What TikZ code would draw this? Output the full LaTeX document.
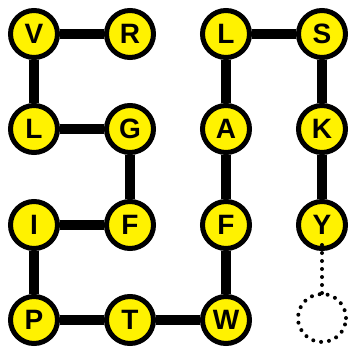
\documentclass[tikz,border=0pt]{standalone}
\usepackage{fontspec}
\setmainfont{Liberation Sans}
\begin{document}
\begin{tikzpicture}[x=1pt,y=-1pt,
  letter/.style={circle,draw=black,line width=5pt,fill=yellow,minimum size=47pt,inner sep=0pt,font=\fontsize{28}{28}\selectfont\bfseries},
  link/.style={line width=10pt},
  ghost/.style={circle,draw=black,line width=4pt,dash pattern=on 0pt off 8pt,line cap=round,minimum size=48pt,inner sep=0pt},
  ghostlink/.style={line width=4pt,dash pattern=on 0pt off 8pt,line cap=round}]
\useasboundingbox (0,0) rectangle (351,348);
\node[letter] (v) at (34,34) {V};
\node[letter] (r) at (130,34) {R};
\node[letter] (l1) at (34,129) {L};
\node[letter] (g) at (130,129) {G};
\node[letter] (i) at (34,225) {I};
\node[letter] (f1) at (130,225) {F};
\node[letter] (p) at (34,320) {P};
\node[letter] (t) at (130,320) {T};
\node[letter] (l2) at (226,34) {L};
\node[letter] (s) at (322,34) {S};
\node[letter] (a) at (226,129) {A};
\node[letter] (k) at (322,129) {K};
\node[letter] (f2) at (226,225) {F};
\node[letter] (y) at (322,225) {Y};
\node[letter] (w) at (226,320) {W};
\node[ghost] (e) at (322,318) {};
\foreach \a/\b in {v/r,v/l1,l1/g,g/f1,f1/i,i/p,p/t,t/w,w/f2,f2/a,a/l2,l2/s,s/k,k/y}
  \draw[link] (\a) -- (\b);
\draw[ghostlink] ([yshift=6pt]y.south) -- ([yshift=-4pt]e.north);
\end{tikzpicture}
\end{document}
